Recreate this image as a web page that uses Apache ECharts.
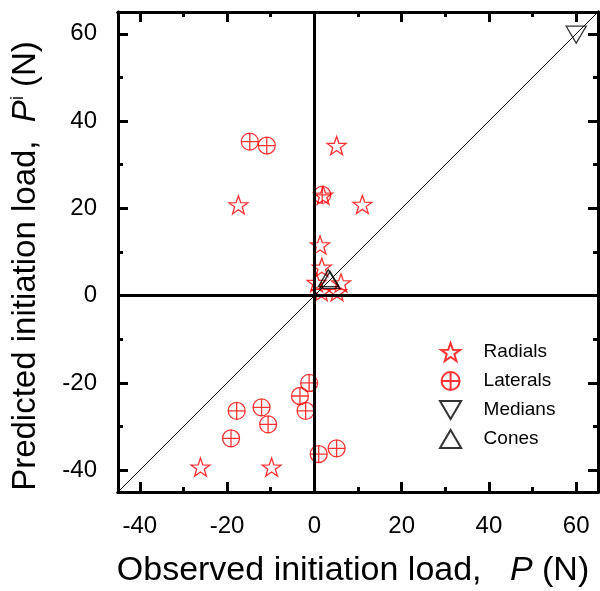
<!DOCTYPE html>
<html><head><meta charset="utf-8">
<script src="https://cdn.jsdelivr.net/npm/echarts@6/dist/echarts.min.js"></script>
<style>html,body{margin:0;padding:0;background:#fff}#c{width:600px;height:591px}</style>
</head><body><div id="c"></div>
<script>
// ---- data ----
const radials = [[-17.4,20.8],[5.1,34.4],[11.0,20.9],[2.0,23.0],[1.3,11.6],[1.7,6.5],[0.5,3.0],[1.6,0.9],[5.2,0.9],[6.1,2.9],[-26.1,-39.3],[-9.8,-39.3]];
const laterals = [[-14.8,35.3],[-10.9,34.4],[1.8,23.1],[-1.2,-20.0],[-3.3,-23.0],[-2.0,-26.4],[-12.1,-25.6],[-17.8,-26.4],[-10.6,-29.5],[-19.1,-32.7],[1.0,-36.3],[5.1,-35.0]];
const medians = [[60,59.8]];
const cones = [[3.2,4.0],[3.6,3.6]];
const identityLine = [[-45,-45],[65,65]];
const majorTicks = [-40,-20,0,20,40,60];
const minorTicks = [-30,-10,10,30,50];
const axisMin = -45, axisMax = 65;

const starPath = 'path://M0,-10 L2.351,-3.236 L9.511,-3.09 L3.804,1.236 L5.878,8.09 L0,4 L-5.878,8.09 L-3.804,1.236 L-9.511,-3.09 L-2.351,-3.236 Z';
const latPath = 'path://M0,-10 A10,10 0 1,1 0,10 A10,10 0 1,1 0,-10 Z M-10,0 L10,0 M0,-10 L0,10';
const downTri = 'path://M-10,-8.5 L10,-8.5 L0,8.5 Z';
const upTri = 'path://M0,-8.5 L10,8.5 L-10,8.5 Z';
const FONT = 'Liberation Sans, Arial, sans-serif';

function mkAxis(pos, ticks, len, labels, extra) {
  return Object.assign({
    type: 'value', position: pos, min: axisMin, max: axisMax,
    axisLine: { show: true, onZero: false, lineStyle: { color: '#000', width: 3 } },
    axisTick: { show: true, inside: true, length: len, customValues: ticks, lineStyle: { color: '#000', width: 3 } },
    axisLabel: labels ? { show: true, customValues: majorTicks, fontSize: 24, color: '#000', fontFamily: FONT, margin: labels } : { show: false },
    splitLine: { show: false }
  }, extra || {});
}

const chart = echarts.init(document.getElementById('c'));
chart.setOption({
  animation: false,
  grid: { left: 118, top: 12, width: 480, height: 480, containLabel: false, outerBoundsMode: 'none' },
  xAxis: [
    mkAxis('bottom', majorTicks, 10, 22, {
      name: '{a|Observed initiation load,   }{i|P}{a| (N)}', nameLocation: 'middle', nameGap: 62,
      nameTextStyle: { padding: [0, 10, 0, 0], rich: { a: { fontSize: 34, fontFamily: FONT, color: '#000' }, i: { fontSize: 34, fontFamily: FONT, fontStyle: 'italic', color: '#000' } } }
    }),
    mkAxis('bottom', minorTicks, 5, 0),
    mkAxis('top', majorTicks, 10, 0),
    mkAxis('top', minorTicks, 5, 0)
  ],
  yAxis: [
    mkAxis('left', majorTicks, 10, 21, {
      name: '{a|Predicted initiation load,  }{i|P}{s|i}{a| (N)}', nameLocation: 'middle', nameGap: 75,
      nameTextStyle: { padding: [0, 28, 0, 0], rich: {
        a: { fontSize: 33, fontFamily: FONT, color: '#000' },
        i: { fontSize: 33, fontFamily: FONT, fontStyle: 'italic', color: '#000' },
        s: { fontSize: 18, fontFamily: FONT, color: '#000', verticalAlign: 'top', padding: [0, 0, 16, 0] }
      } }
    }),
    mkAxis('left', minorTicks, 5, 0),
    mkAxis('right', majorTicks, 10, 0),
    mkAxis('right', minorTicks, 5, 0)
  ],
  legend: {
    orient: 'vertical', left: 434, top: 337, itemWidth: 22, itemHeight: 18, itemGap: 9,
    textStyle: { fontSize: 19, fontFamily: FONT, color: '#000', padding: [0, 0, 0, 17] },
    data: [
      { name: 'Radials' },
      { name: 'Laterals' },
      { name: 'Medians', icon: downTri },
      { name: 'Cones', icon: upTri }
    ]
  },
  series: [
    { type: 'line', data: identityLine, symbol: 'none', silent: true, lineStyle: { color: '#000', width: 1 },
      markLine: { silent: true, symbol: 'none', label: { show: false }, lineStyle: { color: '#000', width: 3, type: 'solid' },
        data: [{ xAxis: 0 }, { yAxis: 0 }] } },
    { name: 'Radials', type: 'scatter', data: radials, symbol: starPath, symbolSize: [19, 18],
      itemStyle: { color: 'rgba(255,255,255,0)', borderColor: '#ff0000', borderWidth: 1.3 } },
    { name: 'Laterals', type: 'scatter', data: laterals, symbol: latPath, symbolSize: 17,
      itemStyle: { color: 'rgba(255,255,255,0)', borderColor: '#ff0000', borderWidth: 1.3 } },
    { name: 'Medians', type: 'scatter', data: medians, symbol: downTri, symbolSize: [20, 17],
      itemStyle: { color: 'rgba(255,255,255,0)', borderColor: '#000', borderWidth: 1.3 } },
    { name: 'Cones', type: 'scatter', data: cones, symbol: upTri, symbolSize: [20, 17],
      itemStyle: { color: 'rgba(255,255,255,0)', borderColor: '#000', borderWidth: 1.3 } }
  ]
});
</script></body></html>
